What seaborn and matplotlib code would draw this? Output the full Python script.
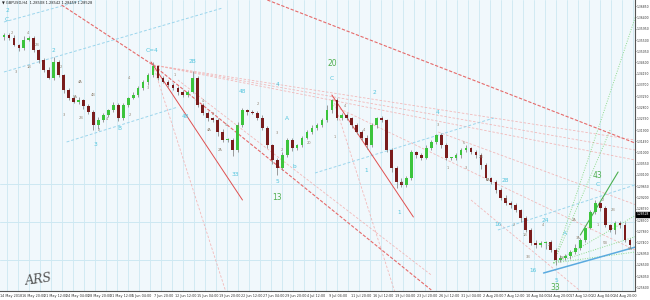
import numpy as np
import pandas as pd
import matplotlib
matplotlib.use("Agg")
import matplotlib.pyplot as plt
import matplotlib.transforms as mtransforms
import seaborn as sns

sns.set_style("white")
plt.rcParams["font.family"] = ["DejaVu Sans"]

# ---------------- data ----------------
first_open = 1.3560
closes = [
    1.3570, 1.3558, 1.3530, 1.3518, 1.3550, 1.3558, 1.3510, 1.3470, 1.3430, 1.3398,
    1.3462, 1.3410, 1.3350, 1.3318, 1.3302, 1.3310, 1.3286, 1.3262, 1.3210, 1.3230,
    1.3250, 1.3270, 1.3290, 1.3238, 1.3290, 1.3318, 1.3330, 1.3358, 1.3382, 1.3410,
    1.3446, 1.3398, 1.3382, 1.3370, 1.3358, 1.3342, 1.3330, 1.3342, 1.3398, 1.3290,
    1.3258, 1.3238, 1.3230, 1.3182, 1.3150, 1.3150, 1.3110, 1.3210, 1.3270, 1.3262,
    1.3258, 1.3238, 1.3198, 1.3130, 1.3070, 1.3038, 1.3090, 1.3150, 1.3118, 1.3130,
    1.3158, 1.3182, 1.3198, 1.3210, 1.3230, 1.3270, 1.3310, 1.3238, 1.3250, 1.3238,
    1.3210, 1.3182, 1.3158, 1.3130, 1.3210, 1.3238, 1.3230, 1.3110, 1.3038, 1.2982,
    1.2970, 1.2998, 1.3102, 1.3090, 1.3078, 1.3118, 1.3142, 1.3170, 1.3130, 1.3078,
    1.3078, 1.3090, 1.3110, 1.3118, 1.3102, 1.3090, 1.3050, 1.2998, 1.2982, 1.2950,
    1.2918, 1.2898, 1.2890, 1.2870, 1.2838, 1.2790, 1.2738, 1.2730, 1.2738, 1.2742,
    1.2710, 1.2670, 1.2678, 1.2686, 1.2702, 1.2718, 1.2750, 1.2798, 1.2862, 1.2898,
    1.2878, 1.2810, 1.2790, 1.2818, 1.2810, 1.2750, 1.2730,
]
upper_wick_pips = [
    8, 10, 12, 6, 15, 10, 8, 6, 10, 12,
    20, 8, 6, 10, 8, 12, 6, 8, 10, 12,
    8, 6, 14, 10, 8, 6, 12, 8, 10, 8,
    15, 6, 8, 10, 8, 6, 10, 8, 30, 6,
    8, 10, 6, 8, 12, 10, 8, 14, 10, 6,
    8, 10, 12, 8, 6, 10, 14, 8, 10, 6,
    8, 10, 12, 8, 10, 20, 6, 8, 10, 8,
    6, 10, 8, 12, 10, 6, 8, 6, 10, 8,
    14, 10, 8, 6, 10, 12, 8, 6, 10, 8,
    6, 8, 10, 12, 6, 8, 10, 8, 6, 8,
    10, 12, 8, 10, 6, 8, 10, 12, 8, 6,
    10, 8, 12, 10, 8, 14, 10, 6, 8, 12,
    10, 8, 6, 10, 8, 12, 8,
]
lower_wick_pips = [
    10, 8, 6, 12, 8, 6, 10, 12, 8, 6,
    8, 10, 12, 8, 6, 10, 12, 8, 20, 15,
    8, 10, 6, 12, 8, 10, 6, 8, 10, 12,
    8, 10, 6, 8, 10, 12, 8, 10, 6, 8,
    10, 12, 8, 14, 10, 8, 25, 10, 8, 12,
    6, 8, 10, 12, 14, 28, 10, 8, 12, 10,
    8, 6, 10, 8, 6, 8, 12, 10, 8, 10,
    12, 8, 10, 14, 8, 12, 10, 8, 16, 25,
    10, 8, 10, 12, 8, 6, 10, 8, 12, 10,
    8, 10, 12, 8, 10, 12, 14, 10, 8, 12,
    10, 8, 12, 10, 18, 8, 10, 12, 8, 25,
    10, 20, 6, 10, 12, 8, 10, 8, 6, 10,
    12, 10, 8, 14, 12, 10, 8,
]
time_labels = [
    "14 May 2018", "16 May 20:00", "21 May 12:00", "24 May 04:00", "28 May 20:00",
    "31 May 12:00", "5 Jun 04:00", "7 Jun 20:00", "12 Jun 12:00", "15 Jun 04:00",
    "19 Jun 20:00", "22 Jun 12:00", "27 Jun 04:00", "29 Jun 20:00", "4 Jul 12:00",
    "9 Jul 04:00", "11 Jul 20:00", "16 Jul 12:00", "19 Jul 04:00", "23 Jul 20:00",
    "26 Jul 12:00", "31 Jul 04:00", "2 Aug 20:00", "7 Aug 12:00", "10 Aug 04:00",
    "14 Aug 20:00", "17 Aug 12:00", "22 Aug 04:00", "24 Aug 20:00",
]
price_ticks = [
    1.36850, 1.36400, 1.35950, 1.35500, 1.35050, 1.34600, 1.34150, 1.33700,
    1.33250, 1.32800, 1.32350, 1.31900, 1.31450, 1.31000, 1.30550, 1.30100,
    1.29650, 1.29200, 1.28750, 1.28300, 1.27850, 1.27400, 1.26950, 1.26500,
    1.26050, 1.25600,
]
level_prices = [1.2974, 1.2822, 1.2670]
last_price = 1.28528
header = "\u25bc GBPUSD,H4  1.28508 1.28542 1.28459 1.28528"

# trend lines: bar0, price0, bar1, price1
red_lines = [(29.6, 1.3462, 48.0, 1.2910), (66.0, 1.3330, 82.4, 1.2842)]
red_dashed = [(53.0, 1.3710, 127.0, 1.3138), (30.0, 1.3450, 86.0, 1.2550),
              (11.6, 1.3690, 30.0, 1.3450)]
pink_dashed = [(30.0, 1.3450, 44.6, 1.2546), (66.0, 1.3330, 78.6, 1.2546),
               (35.0, 1.3390, 86.0, 1.2610), (30.0, 1.3450, 127.0, 1.3150),
               (30.0, 1.3450, 127.0, 1.3110), (30.0, 1.3450, 127.0, 1.3070),
               (66.0, 1.3290, 127.0, 1.2710), (87.4, 1.3182, 130.0, 1.2870),
               (94.0, 1.2910, 116.0, 1.2546)]
blue_dashed = [(0.0, 1.3622, 16.0, 1.3710), (0.0, 1.3422, 44.0, 1.3678),
               (12.6, 1.3142, 35.0, 1.3282), (62.6, 1.3018, 98.6, 1.3238),
               (99.4, 1.2790, 130.0, 1.2990)]
blue_solid = [(108.6, 1.2618, 130.0, 1.2738)]
green_dotted = [(110.6, 1.2658, 128.2, 1.3710), (110.6, 1.2658, 122.0, 1.3190),
                (110.6, 1.2658, 130.0, 1.2882), (110.6, 1.2658, 130.0, 1.2782),
                (110.6, 1.2658, 130.0, 1.2710)]
green_solid = [(116.0, 1.2770, 123.6, 1.3022)]

cyan_labels = [
    ("2", 0.6, 1.3668), ("C", 0.6, 1.3632), ("2", 10, 1.3510), ("C=4", 29.8, 1.3510),
    ("2B", 38, 1.3462), ("3", 18.4, 1.3130), ("B", 23.2, 1.3194), ("48", 36.6, 1.3246),
    ("33", 46.6, 1.3014), ("4", 55, 1.3370), ("48", 48, 1.3342), ("A", 57, 1.3234),
    ("b", 58.4, 1.3046), ("5", 55, 1.2982), ("C", 66, 1.3394), ("2", 74.6, 1.3338),
    ("1", 73, 1.3026), ("1", 79.6, 1.2862), ("4", 87.2, 1.3258), ("28", 101, 1.2990),
    ("C", 119.4, 1.2970), ("16", 99.4, 1.2810), ("24", 109, 1.2826), ("A", 113, 1.2774),
    ("16", 106.4, 1.2626), ("5", 111.2, 1.2586),
]
green_labels = [("20", 66, 1.3454), ("13", 55, 1.2922), ("43", 119.4, 1.3006),
                ("33", 111, 1.2560)]
small_labels = [
    ("2", 1.6, 1.3578), ("4", 4.8, 1.3578), ("2B", 6.6, 1.3530), ("1B", 5, 1.3442),
    ("3", 2.4, 1.3422), ("2", 11.4, 1.3442), ("4A", 15.4, 1.3382), ("5A", 14.4, 1.3322),
    ("4B", 18, 1.3330), ("4", 25.2, 1.3398), ("3", 29, 1.3358), ("1", 34.4, 1.3410),
    ("3", 12, 1.3250), ("2B", 15.6, 1.3238), ("2", 19, 1.3190), ("4", 20.8, 1.3234),
    ("2", 25.4, 1.3250), ("4", 40, 1.3306), ("2", 42, 1.3254), ("4A", 41.4, 1.3190),
    ("2A", 43.4, 1.3110), ("5", 44.6, 1.3210), ("3", 47, 1.3202), ("2", 51, 1.3294),
    ("3", 55, 1.3178), ("2", 56, 1.3110), ("20", 61.4, 1.3138), ("4", 68.6, 1.3286),
    ("1", 66.6, 1.3162), ("4", 72.4, 1.3190), ("5", 80, 1.2978), ("3", 87.4, 1.3210),
    ("1", 89.4, 1.3038), ("6", 92.6, 1.3138), ("3", 93, 1.3038), ("2B", 96, 1.3082),
    ("4A", 97.4, 1.2990), ("3", 101, 1.2910), ("2", 102.6, 1.2810), ("1B", 104.8, 1.2770),
    ("3B", 105.4, 1.2682), ("4", 108.4, 1.2810), ("2", 109.6, 1.2730), ("5B", 112.4, 1.2678),
    ("2A", 114.8, 1.2830), ("3A", 115.6, 1.2758), ("2", 120.6, 1.2910), ("2B", 122.6, 1.2870),
    ("1", 119.6, 1.2810), ("5B", 121, 1.2738), ("5A", 126, 1.2714),
]

# ---------------- build OHLC table ----------------
n = len(closes)
bars = np.arange(n)
opens = [first_open] + closes[:-1]
df = pd.DataFrame({"bar": bars, "open": opens, "close": closes})
df["high"] = df[["open", "close"]].max(axis=1) + np.array(upper_wick_pips) * 1e-4
df["low"] = df[["open", "close"]].min(axis=1) - np.array(lower_wick_pips) * 1e-4
df["bull"] = df["close"] >= df["open"]

# ---------------- figure ----------------
fig = plt.figure(figsize=(6.5, 3.0), dpi=100)
fig.patch.set_facecolor("white")
ax = fig.add_axes([0.0, 9 / 300, 635 / 650, 291 / 300])
ax.set_facecolor("#f1f8fc")
ax.set_xlim(0, 127)
ax.set_ylim(1.2546, 1.3710)

grid_c = "#cde8f2"
for gx in np.arange(0.66, 127, 2.21):
    ax.axvline(gx, color=grid_c, lw=0.6, zorder=0)
for lp in level_prices:
    ax.axhline(lp, color=grid_c, lw=0.7, zorder=0)

def draw(lines, color, ls, lw, alpha=1.0):
    for b0, p0, b1, p1 in lines:
        sns.lineplot(x=[b0, b1], y=[p0, p1], ax=ax, color=color, linestyle=ls,
                     linewidth=lw, alpha=alpha, zorder=1, sort=False)

draw(pink_dashed, "#f2a9a9", (0, (3, 2)), 0.6, 0.8)
draw(blue_dashed, "#9bd5ec", (0, (3, 2)), 0.7)
draw(green_dotted, "#8edb8e", (0, (1, 1.5)), 0.7)
draw(red_dashed, "#e66a6a", (0, (3, 1.5)), 0.8)
draw(red_lines, "#e05050", "-", 0.7)
draw(blue_solid, "#5aaadf", "-", 1.1)
draw(green_solid, "#4caf50", "-", 0.8)

# candles
ax.vlines(df["bar"], df["low"], df["high"], color="#8c8c8c", lw=0.6, zorder=2)
body_h = (df["close"] - df["open"]).abs().clip(lower=0.00025)
body_b = df[["open", "close"]].min(axis=1)
colors = np.where(df["bull"], "#3cc43c", "#7a1c1c")
ax.bar(df["bar"], body_h, bottom=body_b, width=0.55, color=colors, linewidth=0, zorder=3)

# labels
for t, b, p in small_labels:
    ax.text(b, p, t, fontsize=2.6, color="#8f8272", ha="center", va="center", zorder=4)
for t, b, p in cyan_labels:
    ax.text(b, p, t, fontsize=4.2, color="#52c4dd", ha="center", va="center", zorder=4)
for t, b, p in green_labels:
    ax.text(b, p, t, fontsize=5.5, color="#4fae4f", ha="center", va="center", zorder=4)

# signature
ax.text(4.2, 1.2590, "ARS", fontsize=9, style="italic", family="DejaVu Serif",
        color="#555555", rotation=8, ha="left", va="center", zorder=4)

# axes styling
for s in ["left", "top"]:
    ax.spines[s].set_visible(False)
for s in ["right", "bottom"]:
    ax.spines[s].set_color("#555555")
    ax.spines[s].set_linewidth(0.8)

tick_pos = np.arange(len(time_labels)) * 4.414 - 0.8
ax.set_xticks(tick_pos)
ax.set_xticklabels(time_labels, fontsize=2.4, ha="left")
ax.tick_params(axis="x", length=1.2, width=0.4, pad=1, colors="#333333")

ax.yaxis.tick_right()
ax.set_yticks(price_ticks)
ax.set_yticklabels([f"{v:.5f}" for v in price_ticks], fontsize=2.15)
ax.tick_params(axis="y", length=1.0, width=0.4, pad=0.5, colors="#333333")
ax.set_xlabel("")
ax.set_ylabel("")

# current price box
trans = mtransforms.blended_transform_factory(ax.transAxes, ax.transData)
ax.text(1.003, last_price, f"{last_price:.5f}", transform=trans, fontsize=2.15,
        color="white", ha="left", va="center", clip_on=False, zorder=6,
        bbox=dict(boxstyle="square,pad=0.25", fc="black", ec="black"))

fig.text(0.003, 0.997, header, fontsize=2.6, color="#222222", ha="left", va="top")

fig.savefig("out.png", dpi=100, facecolor="white")
